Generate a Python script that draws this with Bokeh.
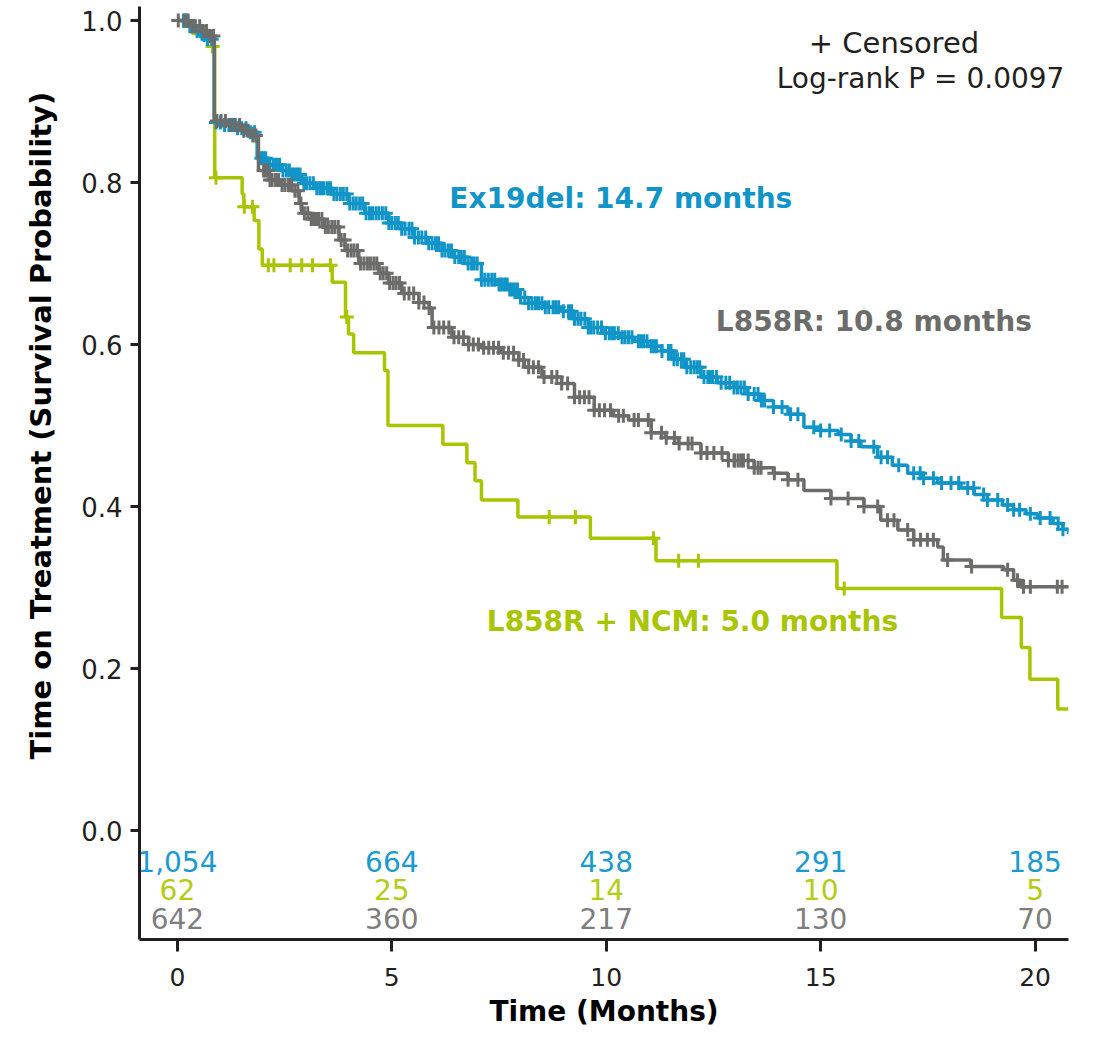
import math
import numpy as np
from bokeh.plotting import figure
from bokeh.models import Label, Title, FixedTicker, NumeralTickFormatter, Range1d, ColumnDataSource
from bokeh.core.properties import value
from bokeh.embed import file_html
from bokeh.resources import INLINE

# ---------------- data ----------------
# Ex19del step curve
blue_t = [0, 0.24, 0.40, 0.55, 0.70, 0.86, 1.10, 1.40, 1.65, 1.86, 2.11, 2.44, 2.66, 2.90, 3.22,
          3.61, 4.00, 4.37, 4.93, 5.23, 5.53, 5.84, 6.17, 6.44, 6.70, 7.09, 7.45, 7.72, 7.96, 8.19,
          8.56, 8.96, 9.26, 9.58, 9.97, 10.29, 10.65, 10.97, 11.29, 11.58, 11.82, 12.21, 12.59,
          12.98, 13.29, 13.56, 13.90, 14.24, 14.61, 15.00, 15.41, 15.71, 15.94, 16.33, 16.67,
          17.03, 17.37, 17.73, 18.27, 18.58, 18.89, 19.24, 19.50, 19.79, 20.06, 20.42, 20.65, 20.78]
blue_s = [1.0, 0.993, 0.987, 0.982, 0.977, 0.874, 0.871, 0.867, 0.862, 0.830, 0.822, 0.815, 0.810,
          0.799, 0.793, 0.786, 0.774, 0.762, 0.750, 0.743, 0.732, 0.725, 0.716, 0.708, 0.700, 0.680,
          0.674, 0.668, 0.658, 0.651, 0.646, 0.641, 0.632, 0.621, 0.614, 0.609, 0.604, 0.598, 0.592,
          0.582, 0.572, 0.560, 0.553, 0.547, 0.539, 0.531, 0.523, 0.514, 0.498, 0.494, 0.489, 0.481,
          0.474, 0.461, 0.451, 0.441, 0.435, 0.429, 0.423, 0.415, 0.408, 0.402, 0.396, 0.391, 0.386,
          0.379, 0.372, 0.366]
blue_cens = [0.14, 0.21, 0.29, 0.37, 0.46, 0.54, 0.62, 0.70, 0.80,
             0.90, 1.00, 1.10, 1.20, 1.30, 1.40, 1.50, 1.60, 1.70, 1.80,
             1.96, 2.06, 2.16, 2.31, 2.46, 2.61, 2.73, 2.86, 3.01, 3.17, 3.32, 3.42, 3.57, 3.72,
             3.87, 4.02, 4.17, 4.32, 4.48, 4.63, 4.78, 4.93, 5.08, 5.23,
             5.40, 5.53, 5.70, 5.79, 5.94, 6.09, 6.24, 6.39, 6.56, 6.69, 6.86, 6.99, 7.09, 7.25,
             7.40, 7.50, 7.63, 7.75, 7.86, 8.00, 8.19, 8.35, 8.50, 8.66, 8.76, 8.89, 9.12,
             9.26, 9.41, 9.58, 9.71, 9.89, 10.07, 10.19, 10.37, 10.52, 10.75, 10.87, 11.05, 11.17,
             11.45, 11.58, 11.75, 11.88, 12.05, 12.18,
             12.37, 12.48, 12.68, 12.79, 12.98, 13.14, 13.31, 13.54, 13.69, 13.90, 14.10, 14.30,
             14.47, 14.84, 15.00, 15.21, 15.48, 15.71, 15.89,
             16.24, 16.41, 16.56, 16.82, 17.17, 17.32, 17.40, 17.63, 17.82, 18.04, 18.22, 18.43,
             18.57, 18.80, 18.89, 19.13, 19.36, 19.50, 19.64, 19.89, 20.12, 20.35, 20.54, 20.65]
blue_cens_dense = [2.01, 2.24, 2.38, 2.54, 2.67, 2.80, 2.95, 3.09, 3.25, 3.37, 3.50, 3.65, 3.80,
                   3.95, 4.10, 4.25, 4.40, 4.55, 4.70, 4.86, 5.00, 5.15, 5.31, 5.47, 5.62, 5.86,
                   6.02, 6.17, 6.32, 6.47, 6.62, 6.78, 6.92, 7.17, 7.33, 7.56, 7.69, 7.80, 7.93,
                   8.10, 8.27, 8.42, 8.58, 8.82, 9.00, 9.19, 9.34, 9.50, 9.64, 9.80, 9.98, 10.13,
                   10.28, 10.44, 10.60, 10.81, 10.95, 11.11, 11.30, 11.51, 11.66, 11.81, 11.97,
                   12.12, 12.28, 12.42, 12.57, 12.88, 13.06, 13.22, 13.45, 13.62]

# L858R step curve
gray_t = [0, 0.29, 0.55, 0.75, 0.86, 1.20, 1.50, 1.70, 1.89, 2.14, 2.41, 2.67, 2.84, 2.90, 3.12,
          3.38, 3.77, 3.91, 4.23, 4.70, 4.93, 5.23, 5.63, 5.87, 5.94, 6.40, 6.79, 7.09, 7.56, 7.96,
          8.09, 8.50, 8.96, 9.26, 9.72, 10.17, 10.52, 11.05, 11.38, 11.68, 12.21, 12.85, 13.45,
          13.90, 14.24, 14.61, 15.24, 16.01, 16.40, 16.80, 17.17, 17.73, 17.86, 18.50, 19.27,
          19.50, 19.66, 20.78]
gray_s = [1.0, 0.993, 0.987, 0.981, 0.876, 0.871, 0.864, 0.858, 0.815, 0.803, 0.797, 0.790, 0.774,
          0.762, 0.755, 0.745, 0.729, 0.716, 0.700, 0.688, 0.676, 0.663, 0.652, 0.645, 0.621, 0.609,
          0.600, 0.596, 0.590, 0.581, 0.572, 0.560, 0.552, 0.535, 0.519, 0.512, 0.507, 0.491, 0.485,
          0.478, 0.466, 0.457, 0.448, 0.441, 0.433, 0.420, 0.410, 0.400, 0.383, 0.371, 0.359, 0.350,
          0.334, 0.326, 0.322, 0.309, 0.301, 0.301]
gray_cens = [0.02, 0.17, 0.25, 0.34, 0.42, 0.52, 0.60, 0.68, 0.76, 0.84,
             0.92, 1.02, 1.12, 1.25, 1.35, 1.45, 1.55, 1.65, 1.76, 1.83,
             2.01, 2.11, 2.21, 2.36, 2.51, 2.66, 2.81, 2.96, 3.12, 3.22, 3.37, 3.52, 3.67, 3.82,
             3.97, 4.12, 4.27, 4.43, 4.58, 4.73, 4.88, 5.03, 5.18,
             5.40, 5.63, 5.87, 6.10, 6.33, 6.56, 6.79, 7.02, 7.26, 7.49, 7.72, 7.96, 8.19, 8.42,
             8.73, 8.96, 9.26, 9.49, 9.72, 9.96, 10.29, 10.65, 10.98, 11.29, 11.59, 11.91, 12.21,
             12.51, 12.85, 12.98, 13.08, 13.15, 13.31, 13.45, 13.54, 13.61, 13.92, 14.24, 14.47,
             15.24, 15.64, 16.01, 16.33, 16.56, 16.71, 17.03, 17.17, 17.33, 17.49, 17.63, 17.96,
             18.52, 19.36, 19.59, 19.73, 19.89, 20.52, 20.63]
gray_cens_dense = [2.06, 2.16, 2.29, 2.44, 2.59, 2.74, 2.88, 3.04, 3.17, 3.29, 3.45, 3.60, 3.75,
                   3.90, 4.05, 4.20, 4.35, 4.50, 4.65, 4.80, 4.95, 5.10, 5.29, 5.51, 5.75, 5.98,
                   6.21, 6.45, 6.67, 6.90, 7.14, 7.37, 7.60, 7.84, 8.07, 8.30, 8.55, 8.85, 9.10,
                   9.38, 9.60, 9.84, 10.10, 10.40, 10.75, 11.05, 11.40, 11.70, 12.00, 12.35, 12.70,
                   13.00, 13.20]

# L858R + NCM step curve
green_t = [0, 0.35, 0.80, 0.87, 1.51, 1.55, 1.79, 1.90, 1.98, 3.61, 3.92, 3.99, 4.11, 4.83, 4.91,
           6.19, 6.75, 6.94, 7.09, 7.94, 9.63, 11.16, 15.38, 19.22, 19.68, 19.88, 20.53, 20.78]
green_s = [1.0, 0.984, 0.968, 0.806, 0.786, 0.770, 0.753, 0.718, 0.698, 0.677, 0.634, 0.613, 0.590,
           0.568, 0.500, 0.477, 0.454, 0.432, 0.408, 0.387, 0.361, 0.333, 0.299, 0.263, 0.226,
           0.187, 0.150, 0.150]
green_cens = [0.82, 0.90, 1.56, 1.75, 2.12, 2.25, 2.63, 2.90, 3.15, 3.57, 3.95,
              8.67, 9.28, 11.10, 11.69, 12.15, 15.55]

# numbers at risk
risk_times = [0, 5, 10, 15, 20]
risk_ex19del = ["1,054", "664", "438", "291", "185"]
risk_ncm = ["62", "25", "14", "10", "5"]
risk_l858r = ["642", "360", "217", "130", "70"]

x_ticks = [0, 5, 10, 15, 20]
y_ticks = [0.0, 0.2, 0.4, 0.6, 0.8, 1.0]

# ---------------- styling ----------------
BLUE = "#1195c8"
GRAY = "#6c6c6a"
GREEN = "#a9c400"
BLUE_T = "#1a9ad0"
GRAY_T = "#7e7e7e"
GREEN_T = "#b3cc14"
INK = "#231f20"
FONT = "DejaVu Sans"


def surv_at(ts, ss, times):
    ts = np.asarray(ts)
    ss = np.asarray(ss)
    idx = np.searchsorted(ts, np.asarray(times), side="right") - 1
    return ss[np.clip(idx, 0, len(ss) - 1)]


p = figure(width=1104, height=1030,
           x_range=Range1d(-0.884, 20.78), y_range=Range1d(-0.1344, 1.0173),
           output_backend="svg", toolbar_location=None,
           min_border_left=137, min_border_right=36, min_border_top=6, min_border_bottom=90)
p.outline_line_color = None
p.xgrid.grid_line_color = None
p.ygrid.grid_line_color = None
p.background_fill_color = "white"
p.border_fill_color = "white"

for ax in (p.xaxis, p.yaxis):
    ax.axis_line_width = 3
    ax.axis_line_color = INK
    ax.major_tick_line_width = 3
    ax.major_tick_line_color = INK
    ax.major_tick_in = 0
    ax.minor_tick_line_color = None
    ax.major_label_text_font = FONT
    ax.major_label_text_color = INK

p.xaxis.ticker = FixedTicker(ticks=x_ticks)
p.yaxis.ticker = FixedTicker(ticks=y_ticks)
p.yaxis.formatter = NumeralTickFormatter(format="0.0")
p.xaxis.major_tick_out = 12
p.yaxis.major_tick_out = 9
p.xaxis.major_label_standoff = 16
p.yaxis.major_label_standoff = 8
p.xaxis.major_label_text_font_size = "25px"
p.yaxis.major_label_text_font_size = "26px"

p.xaxis.axis_label = "Time (Months)"
p.xaxis.axis_label_text_font = FONT
p.xaxis.axis_label_text_font_size = "28px"
p.xaxis.axis_label_text_font_style = "bold"
p.xaxis.axis_label_text_color = "black"
p.xaxis.axis_label_standoff = 6

p.add_layout(Title(text="Time on Treatment (Survival Probability)", align="left", offset=180,
                   standoff=42, text_font=FONT, text_font_size="29px",
                   text_font_style="bold", text_color="black"), "left")

# curves
for ts, ss, cens, col in ((green_t, green_s, green_cens, GREEN),
                          (blue_t, blue_s, blue_cens + blue_cens_dense, BLUE),
                          (gray_t, gray_s, gray_cens + gray_cens_dense, GRAY)):
    p.step(ts, ss, mode="after", line_color=col, line_width=3.5)
    p.scatter(cens, surv_at(ts, ss, cens), marker="cross", size=14,
              line_color=col, line_width=3)

# numbers at risk
for labels, yv, col in ((risk_ex19del, -0.038, BLUE_T),
                        (risk_ncm, -0.073, GREEN_T),
                        (risk_l858r, -0.109, GRAY_T)):
    src = ColumnDataSource(dict(x=risk_times, y=[yv] * len(risk_times), t=labels))
    p.text(x="x", y="y", text="t", source=src, text_color=col,
           text_font=value(FONT), text_font_size="28px",
           text_align="center", text_baseline="middle")

# group annotations
for txt, xv, yv, col in (("Ex19del: 14.7 months", 10.34, 0.780, BLUE),
                         ("L858R: 10.8 months", 16.24, 0.629, GRAY),
                         ("L858R + NCM: 5.0 months", 12.01, 0.258, GREEN)):
    p.add_layout(Label(x=xv, y=yv, text=txt, text_color=col, text_font=FONT,
                       text_font_size="28px", text_font_style="bold",
                       text_align="center", text_baseline="middle"))

p.add_layout(Label(x=16.71, y=0.972, text="+ Censored", text_color=INK, text_font=FONT,
                   text_font_size="29px", text_align="center", text_baseline="middle"))
p.add_layout(Label(x=17.33, y=0.9285, text="Log-rank P = 0.0097", text_color=INK, text_font=FONT,
                   text_font_size="28px", text_align="center", text_baseline="middle"))

open("out.html", "w").write(file_html(p, INLINE))
